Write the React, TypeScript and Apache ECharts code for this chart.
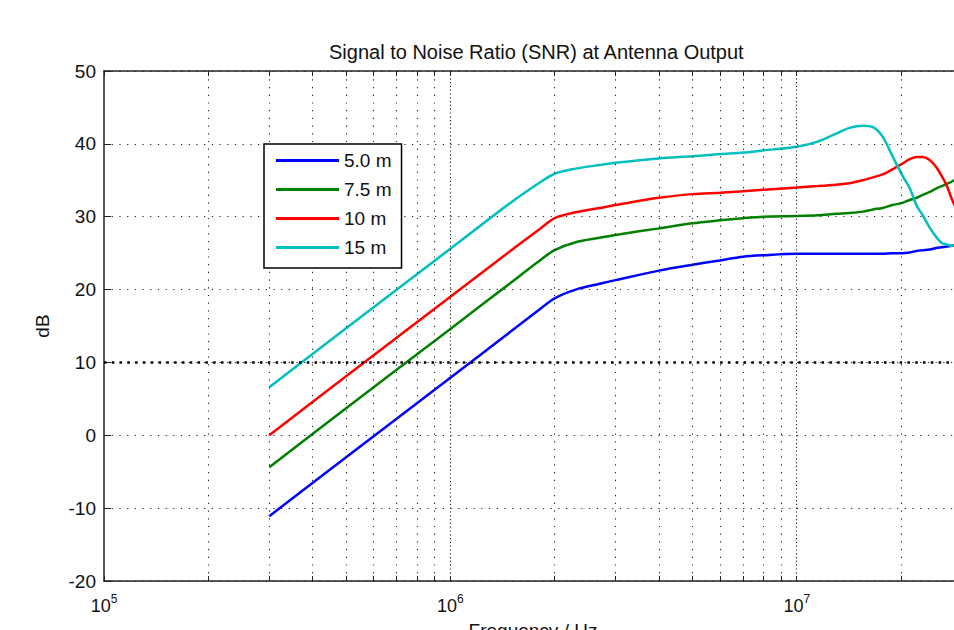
import React, { useEffect, useRef } from "react";
import * as echarts from "echarts";

const FONT = "'Liberation Sans', Arial, Helvetica, sans-serif";

const chartTitle = "Signal to Noise Ratio (SNR) at Antenna Output";
const xAxisName = "Frequency / Hz";
const yAxisName = "dB";
const seriesNames = ["5.0 m", "7.5 m", "10 m", "15 m"];
const seriesColors = ["#0000ff", "#008000", "#ff0000", "#00bfbf"];

// frequency samples (Hz)
const freqHz = [
  3e5, 5e5, 1e6, 1.5e6, 1.8e6, 2e6, 2.3e6, 2.7e6, 3e6, 4e6, 5e6, 6e6, 7e6, 8e6,
  1e7, 1.15e7, 1.3e7, 1.42e7, 1.55e7, 1.66e7, 1.77e7, 1.89e7, 2.02e7, 2.12e7,
  2.22e7, 2.31e7, 2.42e7, 2.53e7, 2.62e7, 2.71e7, 2.8e7, 2.9e7, 3e7,
];

const snr5m = [
  -11.1, -3.0, 7.9, 14.3, 17.2, 18.8, 20.0, 20.8, 21.3, 22.6, 23.4, 24.0, 24.5, 24.7,
  24.9, 24.9, 24.9, 24.9, 24.9, 24.9, 24.9, 25.0, 25.0, 25.1,
  25.3, 25.4, 25.5, 25.7, 25.8, 25.9, 26.0, 26.1, 26.2,
];
const snr75m = [
  -4.4, 3.7, 14.6, 21.0, 23.9, 25.4, 26.5, 27.1, 27.5, 28.4, 29.1, 29.5, 29.8, 30.0,
  30.1, 30.2, 30.4, 30.5, 30.7, 31.0, 31.2, 31.6, 31.9, 32.3,
  32.6, 33.0, 33.4, 33.9, 34.2, 34.5, 34.8, 35.2, 35.5,
];
const snr10m = [
  0.0, 8.1, 19.0, 25.4, 28.2, 29.8, 30.6, 31.2, 31.6, 32.6, 33.1, 33.3, 33.5, 33.7,
  34.0, 34.2, 34.4, 34.6, 35.0, 35.4, 35.8, 36.5, 37.3, 37.9,
  38.2, 38.2, 37.8, 36.8, 35.6, 34.3, 32.5, 30.8, 28.8,
];
const snr15m = [
  6.6, 14.7, 25.6, 32.0, 34.6, 35.9, 36.6, 37.1, 37.4, 38.0, 38.3, 38.6, 38.8, 39.1,
  39.6, 40.3, 41.4, 42.2, 42.5, 42.3, 41.0, 38.3, 35.6, 33.9,
  31.5, 30.2, 28.5, 27.2, 26.4, 26.2, 26.0, 26.1, 26.2,
];
const seriesValues = [snr5m, snr75m, snr10m, snr15m];

const xMin = 1e5;
const xMax = 3e7;
const yMin = -20;
const yMax = 50;
const yStep = 10;
const refLevel = 10;

const minorGrid = [2e5, 3e5, 4e5, 5e5, 6e5, 7e5, 8e5, 9e5, 2e6, 3e6, 4e6, 5e6, 6e6, 7e6, 8e6, 9e6, 2e7];
const majorGrid = [1e6, 1e7];
const allTicks = [...minorGrid, ...majorGrid, 1e5].sort((a, b) => a - b);

export default function App() {
  const ref = useRef<HTMLDivElement>(null);
  useEffect(() => {
    if (!ref.current) return;
    const chart = echarts.init(ref.current, null, { renderer: "svg" });
    const dotted = { color: "#222", width: 1.1, type: [1.2, 6.5] as any, opacity: 1 };
    const dense = { color: "#222", width: 1.1, type: [1.2, 2.6] as any, opacity: 1 };

    const xLabelFormatter = (v: number) => {
      const e = Math.round(Math.log10(v));
      if (Math.abs(v - Math.pow(10, e)) > 1e-6 * v) return "";
      return `{b|10}{e|${e}}`;
    };

    const curves = seriesNames.map((name, i) => ({
      name,
      type: "line",
      data: freqHz.map((f, j) => [f, seriesValues[i][j]]),
      symbol: "none",
      smooth: 0.3,
      lineStyle: { color: seriesColors[i], width: 2.5 },
      itemStyle: { color: seriesColors[i] },
      z: 3,
    }));

    chart.setOption({
      animation: false,
      backgroundColor: "#fff",
      textStyle: { fontFamily: FONT },
      title: {
        text: chartTitle,
        left: 324,
        top: 37,
        textStyle: { fontSize: 20, fontWeight: "normal", color: "#111", fontFamily: FONT },
      },
      grid: { left: 104, top: 71, right: -8, bottom: 49, containLabel: false, outerBoundsMode: "none" },
      legend: {
        data: seriesNames,
        orient: "vertical",
        left: 264,
        top: 144,
        icon: "rect",
        itemWidth: 63,
        itemHeight: 3,
        itemGap: 10,
        padding: [7, 10, 11, 12],
        backgroundColor: "#fff",
        borderColor: "#000",
        borderWidth: 1.5,
        textStyle: { fontSize: 19, color: "#111", fontFamily: FONT },
        z: 10,
      },
      xAxis: [
        {
          type: "log",
          logBase: 10,
          min: xMin,
          max: xMax,
          position: "bottom",
          name: xAxisName,
          nameLocation: "middle",
          nameGap: 40,
          nameTextStyle: { fontSize: 19, color: "#111", fontFamily: FONT, verticalAlign: "top" },
          axisLine: { show: true, onZero: false, lineStyle: { color: "#222", width: 1.5 } },
          axisTick: { show: true, inside: true, length: 5, customValues: allTicks, lineStyle: { color: "#222" } },
          axisLabel: {
            margin: 12,
            showMaxLabel: false,
            formatter: xLabelFormatter,
            rich: {
              b: { fontSize: 18, color: "#111", fontFamily: FONT },
              e: { fontSize: 12, color: "#111", fontFamily: FONT, padding: [0, 0, 13, 0] },
            },
          },
          splitLine: { show: false },
        },
        {
          type: "log",
          logBase: 10,
          min: xMin,
          max: xMax,
          position: "top",
          axisLine: { show: true, onZero: false, lineStyle: { color: "#222", width: 1.5 } },
          axisTick: { show: true, inside: true, length: 5, customValues: allTicks, lineStyle: { color: "#222" } },
          axisLabel: { show: false },
          splitLine: { show: false },
        },
      ],
      yAxis: {
        type: "value",
        min: yMin,
        max: yMax,
        interval: yStep,
        name: yAxisName,
        nameLocation: "middle",
        nameRotate: 90,
        nameGap: 52,
        nameTextStyle: { fontSize: 19, color: "#111", fontFamily: FONT },
        axisLine: { show: true, onZero: false, lineStyle: { color: "#222", width: 1.5 } },
        axisTick: { show: true, inside: true, length: 7, lineStyle: { color: "#222" } },
        axisLabel: { margin: 8, fontSize: 19, color: "#111", fontFamily: FONT },
        splitLine: { show: true, lineStyle: dotted },
      },
      series: [
        {
          name: "grid",
          type: "line",
          data: [],
          silent: true,
          z: 1,
          markLine: {
            silent: true,
            symbol: "none",
            label: { show: false },
            animation: false,
            data: [
              ...minorGrid.map((v) => ({ xAxis: v, lineStyle: dotted })),
              ...majorGrid.map((v) => ({ xAxis: v, lineStyle: dense })),
            ],
          },
        },
        ...curves,
        {
          name: "ref",
          type: "line",
          data: [
            [xMin, refLevel],
            [xMax, refLevel],
          ],
          symbol: "none",
          silent: true,
          lineStyle: { color: "#000", width: 2.5, type: [2.5, 5.3] },
          z: 4,
        },
      ],
    });
    return () => chart.dispose();
  }, []);
  return (
    <div
      ref={ref}
      style={{ position: "fixed", left: 0, top: 0, width: 954, height: 630, overflow: "hidden", background: "#fff" }}
    />
  );
}
